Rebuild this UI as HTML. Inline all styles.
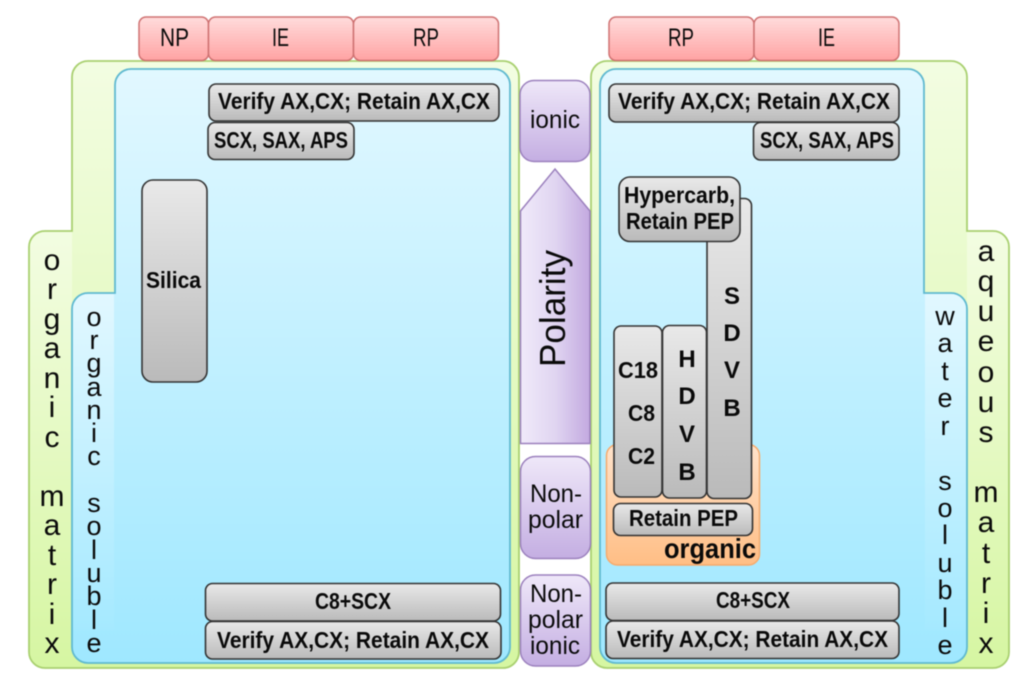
<!DOCTYPE html>
<html><head><meta charset="utf-8"><style>
html,body{margin:0;padding:0;background:#fff;width:1024px;height:689px;overflow:hidden}
svg{display:block;filter:blur(.5px)}
text{font-family:"Liberation Sans",sans-serif;fill:#0a0a0a;white-space:pre}
.b{font-weight:bold;font-size:23px}
.n{font-size:25px}
.c{text-anchor:middle}
</style></head><body>
<svg width="1024" height="689" viewBox="0 0 1024 689" xmlns="http://www.w3.org/2000/svg">
<defs>
<linearGradient id="gr" gradientUnits="userSpaceOnUse" x1="0" y1="61" x2="0" y2="668"><stop offset="0" stop-color="#f3fde2"/><stop offset="1" stop-color="#d6f6a2"/></linearGradient>
<linearGradient id="bl" gradientUnits="userSpaceOnUse" x1="0" y1="69" x2="0" y2="664"><stop offset="0" stop-color="#e2f8ff"/><stop offset="1" stop-color="#9fe8ff"/></linearGradient>
<linearGradient id="grt" gradientUnits="userSpaceOnUse" x1="0" y1="231" x2="0" y2="668"><stop offset="0" stop-color="#f3fde2"/><stop offset="1" stop-color="#d6f6a2"/></linearGradient>
<linearGradient id="blt" gradientUnits="userSpaceOnUse" x1="0" y1="293" x2="0" y2="664"><stop offset="0" stop-color="#e2f8ff"/><stop offset="1" stop-color="#9fe8ff"/></linearGradient>
<linearGradient id="rd" x1="0" y1="0" x2="0" y2="1"><stop offset="0" stop-color="#ffdcdc"/><stop offset="1" stop-color="#ffa3a3"/></linearGradient>
<linearGradient id="gy" x1="0" y1="0" x2="0" y2="1"><stop offset="0" stop-color="#e9e9e9"/><stop offset="1" stop-color="#bababa"/></linearGradient>
<linearGradient id="pu" x1="0" y1="0" x2="0" y2="1"><stop offset="0" stop-color="#efe8f9"/><stop offset="1" stop-color="#c4aee2"/></linearGradient>
<linearGradient id="pa" x1="0" y1="0" x2="1" y2="0"><stop offset="0" stop-color="#f0eafa"/><stop offset=".5" stop-color="#e0d5f1"/><stop offset="1" stop-color="#c3a9e0"/></linearGradient>
<linearGradient id="or" x1="0" y1="0" x2="0" y2="1"><stop offset="0" stop-color="#ffe3cb"/><stop offset="1" stop-color="#ffbe85"/></linearGradient>
</defs>

<!-- left green -->
<path d="M72 231V77a16 16 0 0 1 16-16H503a16 16 0 0 1 16 16V652a16 16 0 0 1-16 16H45a16 16 0 0 1-16-16V247a16 16 0 0 1 16-16Z" fill="url(#gr)" stroke="#a9d070" stroke-width="1.8"/>
<path d="M72 232H45a15 15 0 0 0-15 15V652a15 15 0 0 0 15 15H72Z" fill="url(#grt)"/>
<!-- left blue -->
<path d="M115 293V85a16 16 0 0 1 16-16H494a16 16 0 0 1 16 16V647a16 16 0 0 1-16 16H88a16 16 0 0 1-16-16V309a16 16 0 0 1 16-16Z" fill="url(#bl)" stroke="#5fb9d0" stroke-width="1.8"/>
<path d="M114 294H88a15 15 0 0 0-15 15V630H114Z" fill="url(#blt)"/>

<!-- right green -->
<path d="M967 231V77a16 16 0 0 0-16-16H607a16 16 0 0 0-16 16V652a16 16 0 0 0 16 16H993a16 16 0 0 0 16-16V247a16 16 0 0 0-16-16Z" fill="url(#gr)" stroke="#a9d070" stroke-width="1.8"/>
<path d="M967 232H993a15 15 0 0 1 15 15V652a15 15 0 0 1-15 15H967Z" fill="url(#grt)"/>
<!-- right blue -->
<path d="M924 293V85a16 16 0 0 0-16-16H616a16 16 0 0 0-16 16V647a16 16 0 0 0 16 16H951a16 16 0 0 0 16-16V309a16 16 0 0 0-16-16Z" fill="url(#bl)" stroke="#5fb9d0" stroke-width="1.8"/>
<path d="M925 294H951a15 15 0 0 1 15 15V630H925Z" fill="url(#blt)"/>

<!-- red tabs -->
<g fill="url(#rd)" stroke="#cf7272" stroke-width="1.5">
<rect x="139" y="17" width="69.500" height="43.500" rx="7"/>
<rect x="208.500" y="17" width="145" height="43.500" rx="7"/>
<rect x="353.500" y="17" width="145" height="43.500" rx="7"/>
<rect x="609" y="17" width="145" height="43.500" rx="7"/>
<rect x="754" y="17" width="145" height="43.500" rx="7"/>
</g>
<text class="n" x="160" y="46" textLength="29" lengthAdjust="spacingAndGlyphs">NP</text>
<text class="n" x="272" y="46" textLength="17" lengthAdjust="spacingAndGlyphs">IE</text>
<text class="n" x="413" y="46" textLength="26" lengthAdjust="spacingAndGlyphs">RP</text>
<text class="n" x="668" y="46" textLength="26" lengthAdjust="spacingAndGlyphs">RP</text>
<text class="n" x="818" y="46" textLength="17" lengthAdjust="spacingAndGlyphs">IE</text>

<!-- purple -->
<g stroke="#9b80bd" stroke-width="1.5">
<rect x="520" y="80.500" width="70" height="81" rx="14" fill="url(#pu)"/>
<path d="M520.500 211L555 169L590 211V443.500H520.500Z" fill="url(#pa)"/>
<rect x="520.500" y="456.500" width="70" height="102" rx="15" fill="url(#pu)"/>
<rect x="520.500" y="575" width="70" height="91" rx="15" fill="url(#pu)"/>
</g>
<text class="n" x="530" y="128" textLength="50" lengthAdjust="spacingAndGlyphs">ionic</text>
<text x="0" y="0" style="font-size:36px" transform="translate(565 367) rotate(-90)" textLength="117" lengthAdjust="spacingAndGlyphs">Polarity</text>
<text class="n" x="530" y="502" textLength="52" lengthAdjust="spacingAndGlyphs">Non-</text>
<text class="n" x="528" y="528" textLength="55" lengthAdjust="spacingAndGlyphs">polar</text>
<text class="n" x="530" y="602" textLength="52" lengthAdjust="spacingAndGlyphs">Non-</text>
<text class="n" x="528" y="628" textLength="55" lengthAdjust="spacingAndGlyphs">polar</text>
<text class="n" x="530" y="654" textLength="50" lengthAdjust="spacingAndGlyphs">ionic</text>

<!-- orange -->
<rect x="606.500" y="444.500" width="153" height="120.500" rx="11" fill="url(#or)" stroke="#f8aa6c" stroke-width="1.5"/>

<!-- gray boxes -->
<g fill="url(#gy)" stroke="#333" stroke-width="1.6">
<rect x="209" y="84" width="290" height="37" rx="7"/>
<rect x="208" y="122.500" width="146" height="37" rx="7"/>
<rect x="142" y="180" width="65" height="202" rx="11"/>
<rect x="205.500" y="583.500" width="295" height="37.500" rx="7"/>
<rect x="205.500" y="621.500" width="295.500" height="37.500" rx="7"/>
<rect x="609" y="84" width="290" height="38" rx="7"/>
<rect x="753.500" y="122.500" width="145.500" height="37.500" rx="7"/>
<rect x="707" y="198.500" width="44.500" height="300" rx="7"/>
<rect x="619" y="177" width="121" height="64.500" rx="11"/>
<rect x="614" y="326" width="48" height="171" rx="7"/>
<rect x="662.500" y="325.500" width="44" height="172.500" rx="7"/>
<rect x="613.500" y="503.500" width="139" height="32" rx="7"/>
<rect x="606" y="583" width="293" height="37.500" rx="7"/>
<rect x="606" y="621" width="293" height="37.500" rx="7"/>
</g>

<text class="b" x="218" y="109" textLength="272" lengthAdjust="spacingAndGlyphs">Verify AX,CX; Retain AX,CX</text>
<text class="b" x="214" y="148" textLength="134" lengthAdjust="spacingAndGlyphs">SCX, SAX, APS</text>
<text class="b" x="146" y="288" textLength="55" lengthAdjust="spacingAndGlyphs">Silica</text>
<text class="b" x="315" y="609" textLength="76" lengthAdjust="spacingAndGlyphs">C8+SCX</text>
<text class="b" x="217" y="648" textLength="272" lengthAdjust="spacingAndGlyphs">Verify AX,CX; Retain AX,CX</text>
<text class="b" x="618" y="109" textLength="272" lengthAdjust="spacingAndGlyphs">Verify AX,CX; Retain AX,CX</text>
<text class="b" x="760" y="148" textLength="134" lengthAdjust="spacingAndGlyphs">SCX, SAX, APS</text>
<text class="b" x="624" y="203" textLength="111" lengthAdjust="spacingAndGlyphs">Hypercarb,</text>
<text class="b" x="626" y="229" textLength="108" lengthAdjust="spacingAndGlyphs">Retain PEP</text>
<text class="b" x="629" y="526" textLength="109" lengthAdjust="spacingAndGlyphs">Retain PEP</text>
<text class="b" x="664" y="558" style="font-size:28px" textLength="92" lengthAdjust="spacingAndGlyphs">organic</text>
<text class="b" x="716" y="608" textLength="74" lengthAdjust="spacingAndGlyphs">C8+SCX</text>
<text class="b" x="617" y="647" textLength="271" lengthAdjust="spacingAndGlyphs">Verify AX,CX; Retain AX,CX</text>

<text class="b" x="618" y="378" textLength="40" lengthAdjust="spacingAndGlyphs">C18</text>
<text class="b" x="628" y="421" textLength="27" lengthAdjust="spacingAndGlyphs">C8</text>
<text class="b" x="628" y="464" textLength="27" lengthAdjust="spacingAndGlyphs">C2</text>
<text class="b c" style="font-size:24px" x="687 687 687 687" y="367 404 442 480">HDVB</text>
<text class="b c" style="font-size:24px" x="732 732 732 732" y="304 341 378 416">SDVB</text>

<!-- vertical labels -->
<text class="c" font-size="30" x="52 52 52 52 52 52 52 52 52 52 52 52 52 52" y="270 299 329 358 388 417 447 476 506 535 565 594 624 653">organic matrix</text>
<text class="c" font-size="27" x="94 94 94 94 94 94 94 94 94 94 94 94 94 94 94" y="326 349 372 396 419 442 465 489 512 535 559 582 605 629 652">organic soluble</text>
<text class="c" font-size="30" x="986 986 986 986 986 986 986 986 986 986 986 986 986 986" y="261 291 321 351 382 412 442 472 502 532 563 593 623 653">aqueous matrix</text>
<text class="c" font-size="27" x="945 945 945 945 945 945 945 945 945 945 945 945 945" y="325 352 380 407 435 462 490 517 544 572 599 627 654">water soluble</text>
</svg>
</body></html>
